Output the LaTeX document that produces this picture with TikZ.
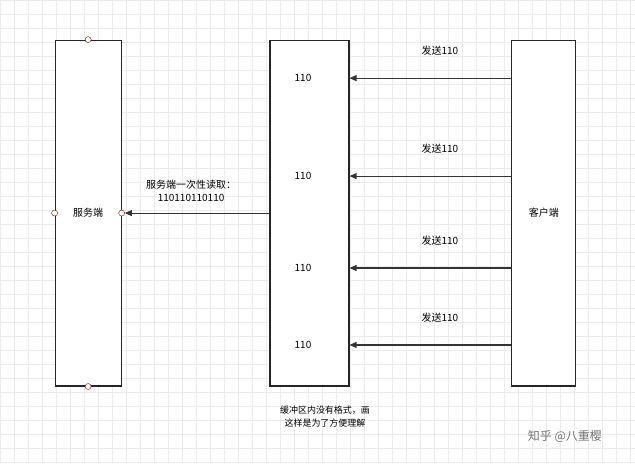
\documentclass[tikz,border=0pt]{standalone}
\usepackage{fontspec}
\setmainfont{Noto Sans CJK SC}[BoldFont={Noto Sans CJK SC Bold}]
\usetikzlibrary{arrows.meta}
\begin{document}
\begin{tikzpicture}[x=1pt,y=-1pt,font=\fontsize{10}{13}\selectfont,
  box/.style={draw=black!85,line width=1.1pt,fill=white},
  port/.style={circle,draw=red!50!black,fill=white,inner sep=0pt,minimum size=6pt},
  arr/.style={-{Triangle[length=7pt,width=6pt]},line width=1.1pt,black!80},
  lbl/.style={inner sep=1pt}]
\fill[white] (0,0) rectangle (635,463);
\foreach \i in {0,14,...,634} \draw[black!8] (\i,0) -- (\i,463);
\foreach \i in {0,14,...,462} \draw[black!8] (0,\i) -- (635,\i);
\useasboundingbox (0,0) rectangle (635,463);
\node[box,minimum width=66pt,minimum height=346pt] (srv) at (88,213) {服务端};
\node[box,minimum width=79pt,minimum height=346pt] (buf) at (309.5,213) {};
\node[box,minimum width=64pt,minimum height=346pt] (cli) at (544,213) {客户端};
\node[port] (pt) at (srv.north) {};
\node[port] (pb) at (srv.south) {};
\node[port] (pl) at (srv.west) {};
\node[port] (pr) at (srv.east) {};
\foreach \y/\n in {78/a,176/b,268/c,345/d}{
  \node[lbl] (v\n) at (303,\y) {110};
  \coordinate (s\n) at (cli.west |- 0,\y);
  \coordinate (e\n) at (buf.east |- 0,\y);
  \draw[arr] (s\n) -- (e\n);
  \node[lbl] (l\n) at (440,\y-27) {发送110};
}
\coordinate (bo) at (buf.west |- pr);
\draw[arr] (bo) -- (pr);
\node[lbl,align=center] (rd) at (191,191) {服务端一次性读取：\\110110110110};
\node[lbl,align=center,font=\fontsize{9}{13}\selectfont] (nt) at (325,417) {缓冲区内没有格式，画\\这样是为了方便理解};
\node[lbl,text=black!55,font=\fontsize{12}{13}\selectfont] (wm) at (565,437) {知乎 @八重樱};
\end{tikzpicture}
\end{document}
